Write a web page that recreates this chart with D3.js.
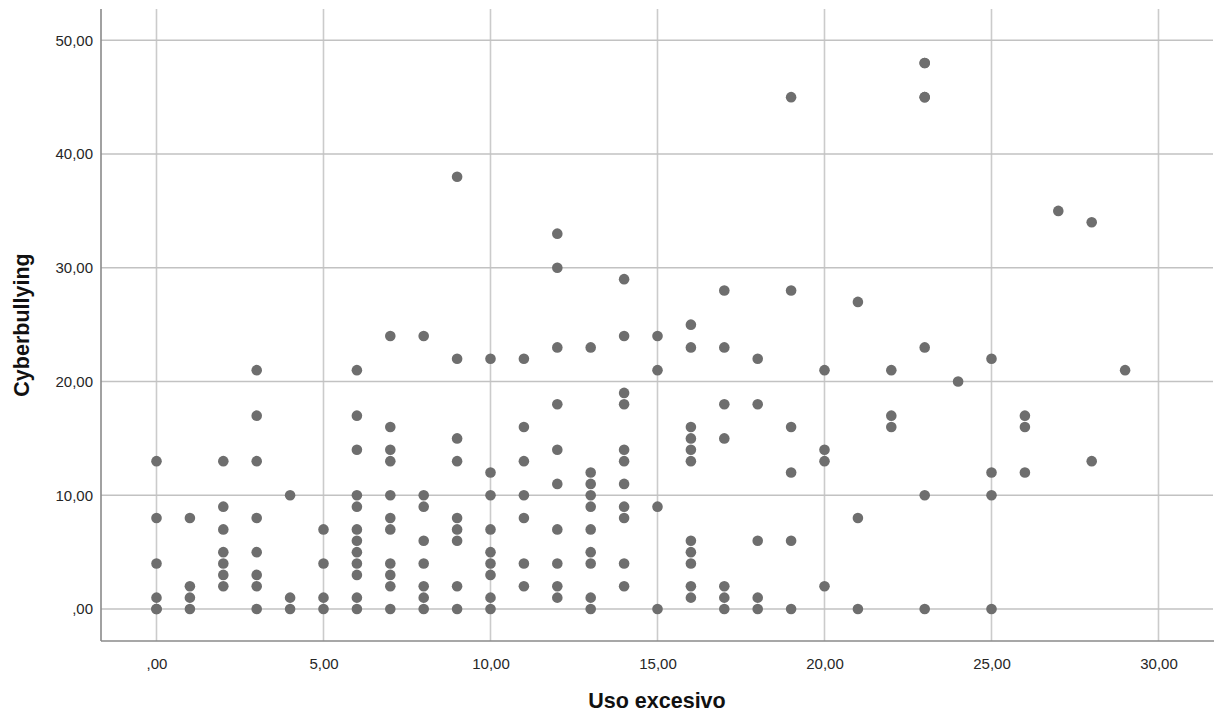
<!DOCTYPE html>
<html>
<head>
<meta charset="utf-8">
<script src="https://cdn.jsdelivr.net/npm/d3@7"></script>
<style>
  html, body { margin: 0; padding: 0; background: #ffffff; }
  svg { display: block; }
</style>
</head>
<body>
<svg id="chart" width="1222" height="720"></svg>
<script>
// Data: Uso excesivo (x) vs Cyberbullying (y)
const usoExcesivo = [
  0,0,0,0,0,0,
  1,1,1,1,
  2,2,2,2,2,2,2,
  3,3,3,3,3,3,3,3,
  4,4,4,
  5,5,5,5,
  6,6,6,6,6,6,6,6,6,6,6,6,
  7,7,7,7,7,7,7,7,7,7,7,
  8,8,8,8,8,8,8,8,
  9,9,9,9,9,9,9,9,9,
  10,10,10,10,10,10,10,10,10,
  11,11,11,11,11,11,11,
  12,12,12,12,12,12,12,12,12,12,
  13,13,13,13,13,13,13,13,13,13,
  14,14,14,14,14,14,14,14,14,14,14,
  15,15,15,15,
  16,16,16,16,16,16,16,16,16,16,16,
  17,17,17,17,17,17,17,
  18,18,18,18,18,
  19,19,19,19,19,19,
  20,20,20,20,
  21,21,21,
  22,22,22,
  23,23,23,23,23,23,23,
  24,
  25,25,25,25,
  26,26,26,
  27,
  28,28,
  29
];
const cyberbullying = [
  13,8,4,1,0,0,
  8,2,1,0,
  13,9,7,5,4,3,2,
  21,17,13,8,5,3,2,0,
  10,1,0,
  7,4,1,0,
  21,17,14,10,9,7,6,5,4,3,1,0,
  24,16,14,13,10,8,7,4,3,2,0,
  24,10,9,6,4,2,1,0,
  38,22,15,13,8,7,6,2,0,
  22,12,10,7,5,4,3,1,0,
  22,16,13,10,8,4,2,
  33,30,23,18,14,11,7,4,2,1,
  23,12,11,10,9,7,5,4,1,0,
  29,24,19,18,14,13,11,9,8,4,2,
  24,21,9,0,
  25,23,16,15,14,13,6,5,4,2,1,
  28,23,18,15,2,1,0,
  22,18,6,1,0,
  45,28,16,12,6,0,
  21,14,13,2,
  27,8,0,
  21,17,16,
  48,48,45,45,23,10,0,
  20,
  22,12,10,0,
  17,16,12,
  35,
  34,13,
  21
];
const xTicks = [0, 5, 10, 15, 20, 25, 30];
const yTicks = [0, 10, 20, 30, 40, 50];
const xTitle = "Uso excesivo";
const yTitle = "Cyberbullying";

const fmt = v => v === 0 ? ",00" : (v.toFixed(2).replace(".", ","));

const svg = d3.select("#chart");
const plot = { left: 101, right: 1213, top: 9, bottom: 641 };

const x = d3.scaleLinear().domain([0, 30]).range([156.5, 1158.5]);
const y = d3.scaleLinear().domain([0, 50]).range([609, 40.3]);

const font = "'Liberation Sans', Arial, sans-serif";

// gridlines
const grid = svg.append("g");
grid.selectAll("line.v").data(xTicks).join("line")
  .attr("x1", d => x(d)).attr("x2", d => x(d))
  .attr("y1", plot.top).attr("y2", plot.bottom)
  .attr("stroke", "#cbcbcb").attr("stroke-width", 1.6);
grid.selectAll("line.h").data(yTicks).join("line")
  .attr("x1", plot.left).attr("x2", plot.right)
  .attr("y1", d => y(d)).attr("y2", d => y(d))
  .attr("stroke", "#c2c2c2").attr("stroke-width", 1.4);

// axes (labels via d3 axes, no tick marks)
const xAxis = d3.axisBottom(x).tickValues(xTicks).tickFormat(fmt).tickSize(0).tickPadding(17);
const yAxis = d3.axisLeft(y).tickValues(yTicks).tickFormat(fmt).tickSize(0).tickPadding(8);

const gx = svg.append("g").attr("transform", `translate(0,${plot.bottom})`).call(xAxis);
const gy = svg.append("g").attr("transform", `translate(${plot.left},0)`).call(yAxis);
[gx, gy].forEach(g => {
  g.select(".domain").remove();
  g.selectAll("text").attr("font-family", font).attr("font-size", 15).attr("fill", "#262626");
});

// axis lines
svg.append("line").attr("x1", plot.left).attr("x2", plot.left)
  .attr("y1", plot.top).attr("y2", plot.bottom)
  .attr("stroke", "#8a8a8a").attr("stroke-width", 1.6);
svg.append("line").attr("x1", plot.left).attr("x2", plot.right + 1)
  .attr("y1", plot.bottom).attr("y2", plot.bottom)
  .attr("stroke", "#8a8a8a").attr("stroke-width", 1.6);

// points
const pts = usoExcesivo.map((v, i) => ({ x: v, y: cyberbullying[i] }));
svg.append("g").selectAll("circle").data(pts).join("circle")
  .attr("cx", d => x(d.x)).attr("cy", d => y(d.y)).attr("r", 5.3)
  .attr("fill", "#6e6e6e");

// titles
svg.append("text").attr("x", 657).attr("y", 708)
  .attr("text-anchor", "middle").attr("font-family", font)
  .attr("font-weight", "bold").attr("font-size", 21.5).attr("fill", "#111")
  .text(xTitle);
svg.append("text").attr("transform", "translate(29,325) rotate(-90)")
  .attr("text-anchor", "middle").attr("font-family", font)
  .attr("font-weight", "bold").attr("font-size", 21.5).attr("fill", "#111")
  .text(yTitle);
</script>
</body>
</html>
